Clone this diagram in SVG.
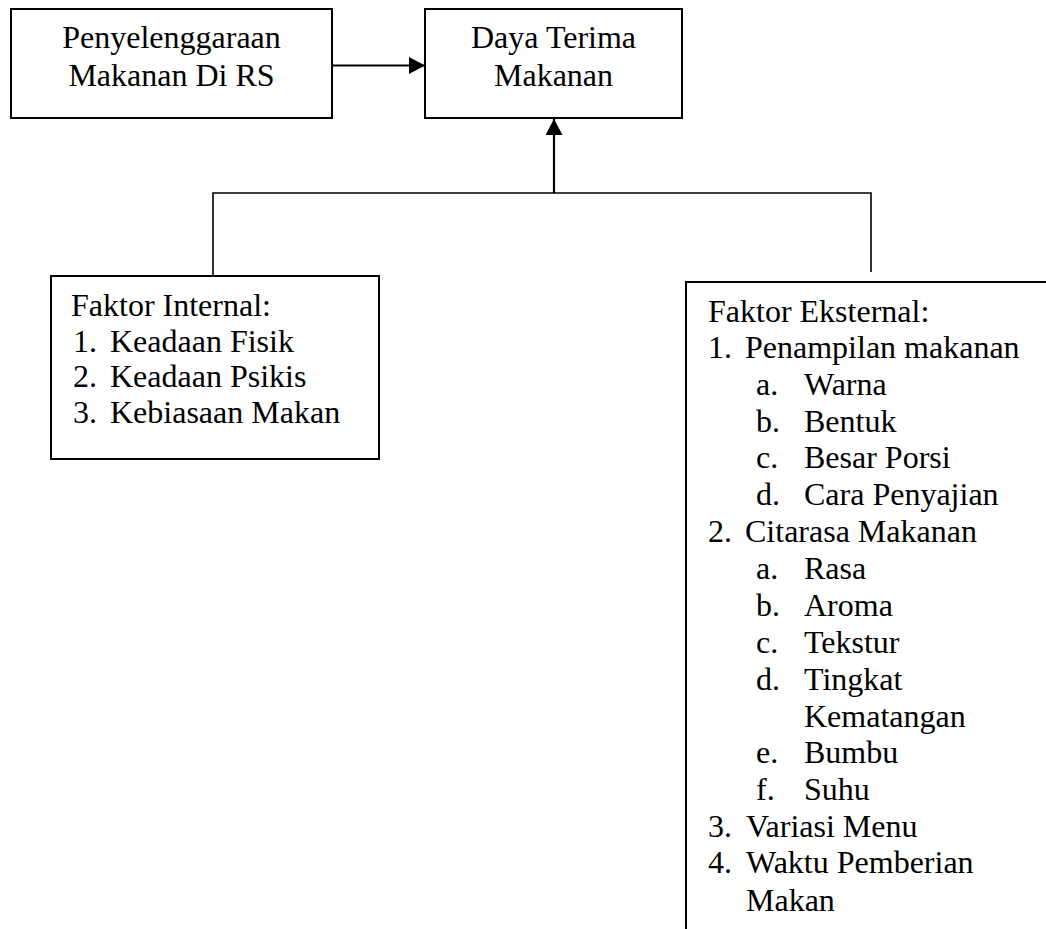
<svg xmlns="http://www.w3.org/2000/svg" width="1046" height="929" viewBox="0 0 1046 929">
<style>
.box{fill:#fff;stroke:#000;stroke-width:2}
.ln{fill:none;stroke:#000;stroke-width:1.6}
.ar{fill:none;stroke:#000;stroke-width:2.2}
.t{font-family:'Times New Roman','Liberation Serif','DejaVu Serif',serif;font-size:32px;fill:#000}
.c{text-anchor:middle}
</style>
<defs>
<marker id="ah" markerUnits="userSpaceOnUse" markerWidth="16" markerHeight="17" refX="16" refY="8.5" orient="auto">
<path d="M0,0 L16,8.5 L0,17 Z" fill="#000"/>
</marker>
</defs>
<rect width="1046" height="929" fill="#fff"/>
<g id="connectors">
<line class="ar" x1="332" y1="65.5" x2="425" y2="65.5" marker-end="url(#ah)"/>
<line class="ar" x1="554" y1="193" x2="554" y2="119" marker-end="url(#ah)"/>
<polyline class="ln" points="213,276 213,193 871,193 871,272"/>
</g>
<g id="node-penyelenggaraan" class="t">
<rect class="box" x="11" y="9" width="321" height="109"/>
<text class="c" x="171.5" y="48">Penyelenggaraan</text>
<text class="c" x="171.5" y="86">Makanan Di RS</text>
</g>
<g id="node-daya-terima" class="t">
<rect class="box" x="425" y="9" width="257" height="109"/>
<text class="c" x="553.5" y="48">Daya Terima</text>
<text class="c" x="553.5" y="86">Makanan</text>
</g>
<g id="node-internal" class="t">
<rect class="box" x="51" y="276" width="328" height="183"/>
<text x="71" y="316">Faktor Internal:</text>
<text x="73" y="352">1.</text><text x="110" y="352">Keadaan Fisik</text>
<text x="73" y="387">2.</text><text x="110" y="387">Keadaan Psikis</text>
<text x="73" y="423">3.</text><text x="110" y="423">Kebiasaan Makan</text>
</g>
<g id="node-eksternal" class="t">
<rect class="box" x="686" y="282" width="420" height="700"/>
<text x="708" y="322">Faktor Eksternal:</text>
<text x="708" y="358">1.</text><text x="745" y="358">Penampilan makanan</text>
<text x="756" y="395">a.</text><text x="804" y="395">Warna</text>
<text x="756" y="432">b.</text><text x="804" y="432">Bentuk</text>
<text x="756" y="468">c.</text><text x="804" y="468">Besar Porsi</text>
<text x="756" y="505">d.</text><text x="804" y="505">Cara Penyajian</text>
<text x="708" y="542">2.</text><text x="745" y="542">Citarasa Makanan</text>
<text x="756" y="579">a.</text><text x="804" y="579">Rasa</text>
<text x="756" y="616">b.</text><text x="804" y="616">Aroma</text>
<text x="756" y="653">c.</text><text x="804" y="653">Tekstur</text>
<text x="756" y="690">d.</text><text x="804" y="690">Tingkat</text>
<text x="804" y="727">Kematangan</text>
<text x="756" y="763">e.</text><text x="804" y="763">Bumbu</text>
<text x="756" y="800">f.</text><text x="804" y="800">Suhu</text>
<text x="708" y="837">3.</text><text x="746" y="837">Variasi Menu</text>
<text x="708" y="873">4.</text><text x="746" y="873">Waktu Pemberian</text>
<text x="746" y="911">Makan</text>
</g>
</svg>
